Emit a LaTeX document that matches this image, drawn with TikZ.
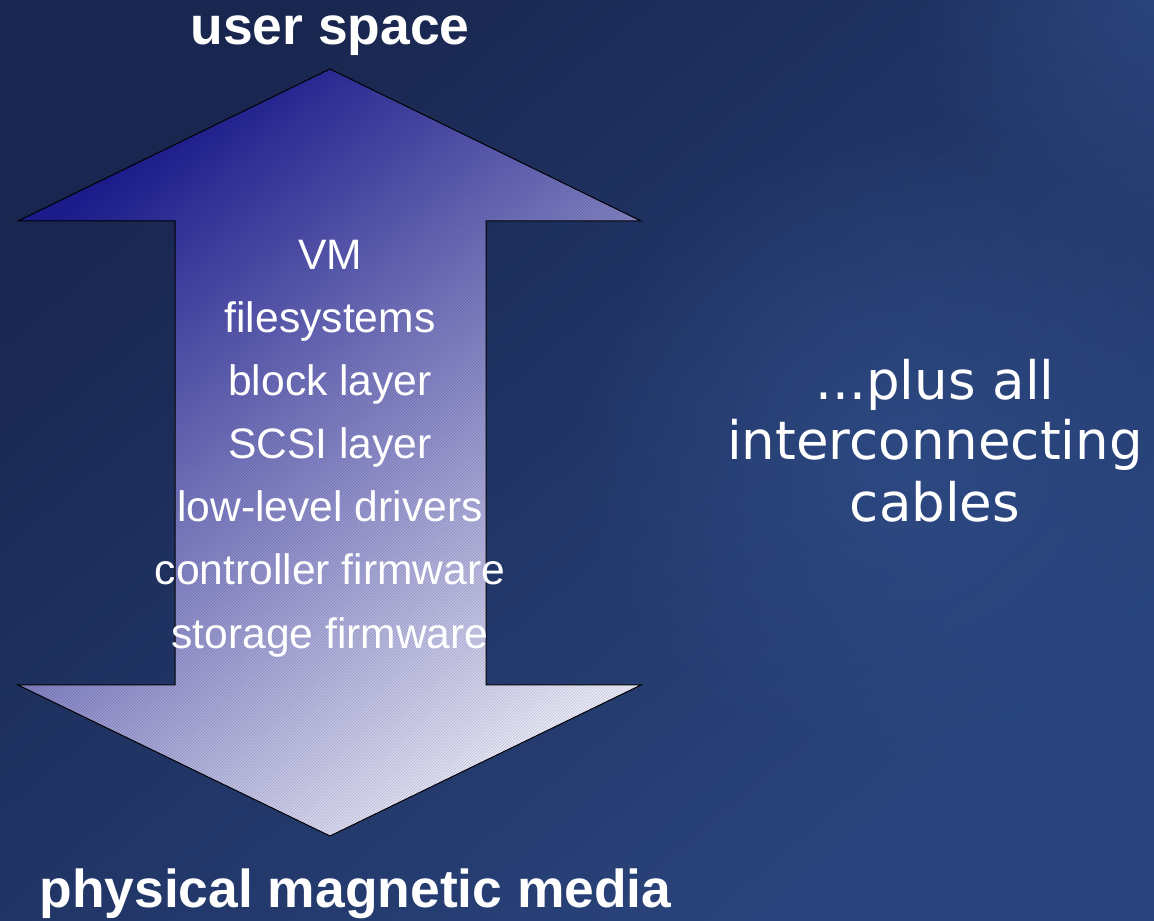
\documentclass[tikz,border=0pt]{standalone}
\usepackage{fontspec}
\setmainfont{Liberation Sans}
\newfontfamily\dejavu{DejaVu Sans}
\usetikzlibrary{patterns,fadings}
\tikzfading[name=softblob, inner color=transparent!0, outer color=transparent!100]
\definecolor{bgdark}{HTML}{19264F}
\definecolor{bglight}{HTML}{2A457E}
\definecolor{blob}{HTML}{33528E}
\definecolor{arrdark}{HTML}{1E1E8E}
\definecolor{arrlight}{HTML}{ECECF7}
\tikzset{
  layertext/.style={text=white, anchor=base, inner sep=0pt, font=\fontsize{42.6}{50}\selectfont},
  titletext/.style={text=white, anchor=base, inner sep=0pt, font=\bfseries\fontsize{53.4}{60}\selectfont},
  sidetext/.style={text=white, anchor=base, inner sep=0pt, font=\dejavu\fontsize{53}{60}\selectfont},
}
\begin{document}
\begin{tikzpicture}[x=1pt,y=1pt]
\useasboundingbox (0,0) rectangle (1154,921);
% background
\shade[top color=bgdark, bottom color=bglight, shading angle=40] (0,0) rectangle (1154,921);
\fill[blob, path fading=softblob, opacity=0.6] (900,470) circle (330);
\fill[blob, path fading=softblob, opacity=0.5] (1154,921) circle (250);
% double arrow
\def\arrowpath{(330,852) -- (641,700) -- (486,700) -- (486,236) -- (641,236) -- (330,85) -- (18,236) -- (175,236) -- (175,700) -- (18,700) -- cycle}
\shade[top color=arrdark, bottom color=arrlight, shading angle=38] \arrowpath;
\fill[pattern=north east lines, pattern color=black!60!blue, opacity=0.18] \arrowpath;
\draw[black, line width=1pt, line join=miter] \arrowpath;
% titles
\node[titletext] (top) at (330,876) {user space};
\node[titletext] (bottom) at (355.5,13) {physical magnetic media};
% layers
\foreach \t [count=\i from 0] in {VM,filesystems,block layer,SCSI layer,low-level drivers,controller firmware,storage firmware}{
  \node[layertext] (layer\i) at (330,651.5-63.1*\i) {\t};
}
% side text
\node[sidetext] (s1) at (935,521) {...plus all};
\node[sidetext] (s2) at (935,461) {interconnecting};
\node[sidetext] (s3) at (935,399) {cables};
\end{tikzpicture}
\end{document}
